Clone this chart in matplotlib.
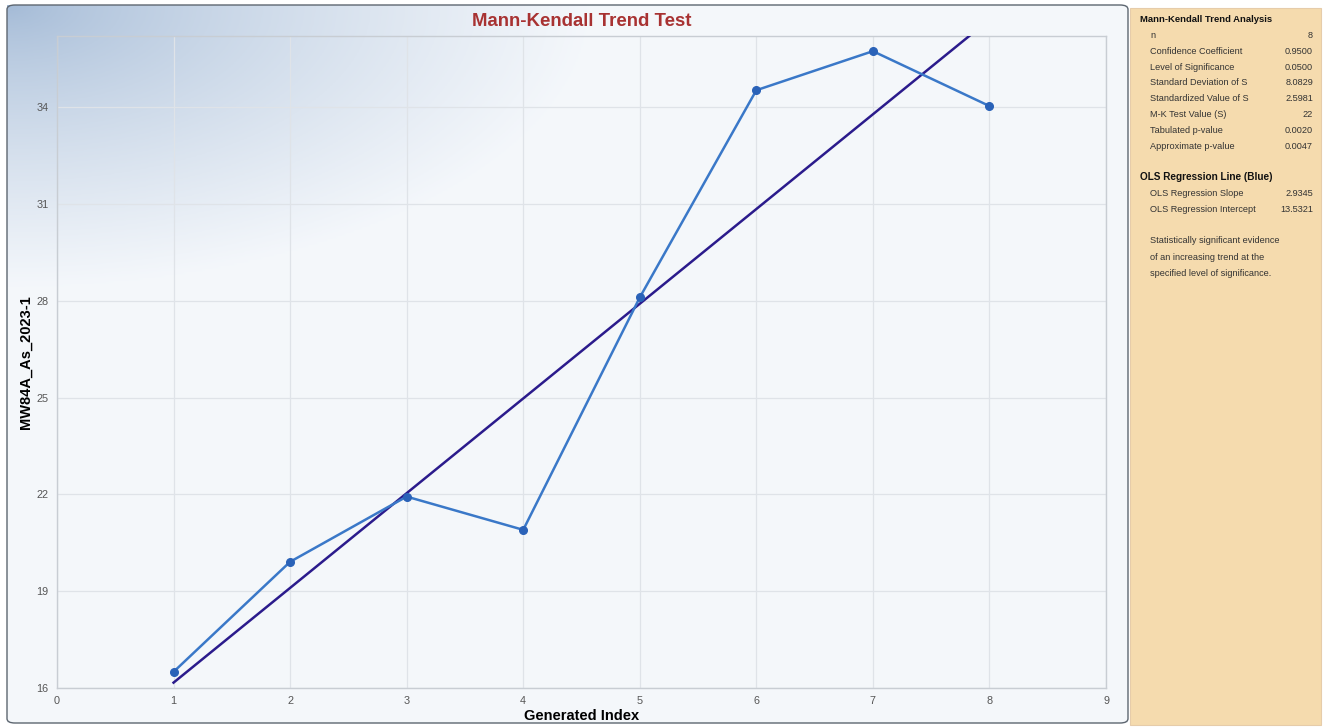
import numpy as np
import matplotlib
matplotlib.use("Agg")
import matplotlib.pyplot as plt
from matplotlib.patches import FancyBboxPatch, Rectangle

# data
index = [1, 2, 3, 4, 5, 6, 7, 8]
values = [16.80, 20.21, 22.23, 21.20, 28.40, 34.82, 36.03, 34.33]
ols_slope = 2.9345
ols_intercept = 13.5321

xticks = [0, 1, 2, 3, 4, 5, 6, 7, 8, 9]
ytick_pos = [16.3, 19.3, 22.3, 25.3, 28.3, 31.3, 34.3]
ytick_labels = ["16", "19", "22", "25", "28", "31", "34"]

mk_rows = [("n", "8"),
           ("Confidence Coefficient", "0.9500"),
           ("Level of Significance", "0.0500"),
           ("Standard Deviation of S", "8.0829"),
           ("Standardized Value of S", "2.5981"),
           ("M-K Test Value (S)", "22"),
           ("Tabulated p-value", "0.0020"),
           ("Approximate p-value", "0.0047")]
ols_rows = [("OLS Regression Slope", "2.9345"),
            ("OLS Regression Intercept", "13.5321")]
conclusion = ["Statistically significant evidence",
              "of an increasing trend at the",
              "specified level of significance."]

plt.rcParams['font.family'] = ['Liberation Sans', 'DejaVu Sans']

W, H = 1323, 728
fig = plt.figure(figsize=(W / 100, H / 100), dpi=100)
fig.patch.set_facecolor("white")

def fx(px):
    return px / W

def fy(py):
    return 1 - py / H

# gradient background of the chart frame
bg = fig.add_axes([fx(7), fy(723), fx(1128 - 7), (723 - 5) / H], zorder=0)
gh, gw = 240, 420
yy, xx = np.mgrid[0:gh, 0:gw]
px = xx / gw * (1128 - 7)
py = yy / gh * (723 - 5)
t = np.clip(np.sqrt((px / 580) ** 2 + (py / 280) ** 2), 0, 1) ** 0.75
c0 = np.array([0.64, 0.73, 0.84])
c1 = np.array([0.957, 0.969, 0.984])
img = c0[None, None, :] * (1 - t[..., None]) + c1[None, None, :] * t[..., None]
bg.imshow(img, aspect="auto", extent=[0, 1, 0, 1], origin="upper")
bg.set_xlim(0, 1)
bg.set_ylim(0, 1)
bg.axis("off")

frame = FancyBboxPatch((fx(7), fy(723)), fx(1128 - 7), (723 - 5) / H,
                       boxstyle="round,pad=0,rounding_size=0.006",
                       transform=fig.transFigure, fill=False,
                       edgecolor="#5d6670", linewidth=1.0, zorder=1)
fig.patches.append(frame)

# main plot
ax = fig.add_axes([fx(57), fy(688), fx(1106 - 57), (688 - 36) / H], zorder=2)
ax.set_facecolor("none")
ax.plot(index, values, color="#3a78c8", linewidth=1.8, marker="o",
        markersize=5.5, markerfacecolor="#2a62b8", markeredgecolor="#2a62b8",
        zorder=4)
xl = np.array([index[0], 9])
ax.plot(xl, ols_intercept + ols_slope * xl, color="#2b1b8c", linewidth=1.8, zorder=3)
ax.set_xlim(0, 9)
ax.set_ylim(16.3, 36.5)
ax.set_xticks(xticks)
ax.set_yticks(ytick_pos)
ax.set_yticklabels(ytick_labels)
ax.grid(True, color="#dfe3e8", linewidth=0.9)
ax.set_axisbelow(True)
for s in ax.spines.values():
    s.set_color("#c8cdd3")
    s.set_linewidth(1.0)
ax.tick_params(length=0, labelsize=7.8, colors="#555555", pad=6)
ax.tick_params(axis="y", pad=6)
ax.set_xlabel("Generated Index", fontsize=10.5, fontweight="bold", labelpad=2)
ax.set_ylabel("MW84A_As_2023-1", fontsize=10.5, fontweight="bold")
ax.yaxis.set_label_coords((33 - 57) / (1106 - 57), 0.5)
ax.set_title("Mann-Kendall Trend Test", fontsize=13.4, fontweight="bold",
             color="#a83232", pad=7)

# info panel on the right
panel = Rectangle((fx(1130), fy(725)), fx(1321 - 1130), (725 - 8) / H,
                  transform=fig.transFigure, facecolor="#f5dbae",
                  edgecolor="#e6ccaa", linewidth=0.8, zorder=1)
fig.patches.append(panel)

tk = dict(fontsize=6.6, color="#333333", va="center")
fig.text(fx(1140), fy(20), "Mann-Kendall Trend Analysis", fontsize=6.8,
         fontweight="bold", color="#111111", va="center")
for i, (k, v) in enumerate(mk_rows):
    y = 35.5 + i * 15.8
    fig.text(fx(1150), fy(y), k, ha="left", **tk)
    fig.text(fx(1313), fy(y), v, ha="right", **tk)
fig.text(fx(1140), fy(177), "OLS Regression Line (Blue)", fontsize=7.2,
         fontweight="bold", color="#111111", va="center")
for i, (k, v) in enumerate(ols_rows):
    y = 193 + i * 16
    fig.text(fx(1150), fy(y), k, ha="left", **tk)
    fig.text(fx(1313), fy(y), v, ha="right", **tk)
for i, line in enumerate(conclusion):
    fig.text(fx(1150), fy(241 + i * 16), line, ha="left", **tk)

fig.savefig("out.png", dpi=100, facecolor="white")
